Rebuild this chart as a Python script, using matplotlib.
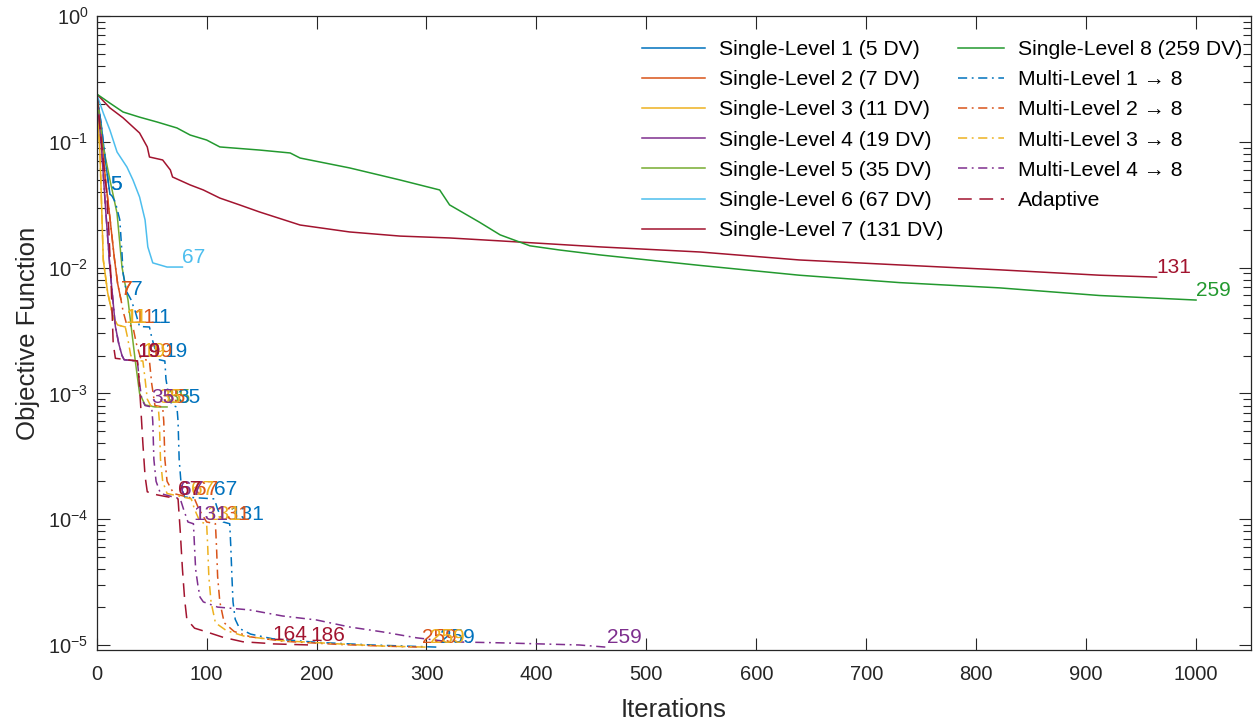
import numpy as np
import matplotlib
matplotlib.use("Agg")
import matplotlib.pyplot as plt

plt.rcParams['font.family'] = ['Liberation Sans', 'DejaVu Sans']
plt.rcParams['mathtext.fontset'] = 'custom'
plt.rcParams['mathtext.rm'] = 'Liberation Sans'
plt.rcParams['mathtext.it'] = 'Liberation Sans:italic'
plt.rcParams['axes.unicode_minus'] = False

# ---------------- data ----------------
sl1_it = [0, 4, 8, 12]
sl1_val = [0.24, 0.14, 0.07, 0.0385]
sl2_it = [0, 4, 8, 12, 16, 19, 22]
sl2_val = [0.24, 0.12, 0.05, 0.025, 0.012, 0.0075, 0.0056]
sl3_it = [0, 3, 6, 10, 15, 19, 26]
sl3_val = [0.24, 0.08, 0.0115, 0.0063, 0.0040, 0.0035, 0.00337]
sl4_it = [0, 4, 8, 12, 17, 20, 23, 25, 37]
sl4_val = [0.24, 0.1, 0.03, 0.01, 0.0034, 0.0025, 0.002, 0.00185, 0.00181]
sl5_it = [0, 6, 12, 18.5, 23, 28.5, 35, 39, 44, 53, 64]
sl5_val = [0.24, 0.091, 0.05, 0.027, 0.0101, 0.0055, 0.00184, 0.001, 0.00081, 0.00078, 0.00078]
sl6_it = [0, 6, 12, 18.5, 27.5, 33, 39, 44, 46.5, 51, 64, 78]
sl6_val = [0.24, 0.169, 0.124, 0.083, 0.063, 0.0497, 0.0364, 0.0239, 0.0146, 0.0109, 0.0101, 0.0101]
sl7_it = [0, 12, 24, 39, 46, 48, 60, 67, 69, 85, 97, 112, 130, 148, 185, 230, 276, 321, 367,
          458, 549, 639, 730, 821, 912, 964]
sl7_val = [0.24, 0.186, 0.155, 0.1175, 0.091, 0.0757, 0.0717, 0.0597, 0.0525, 0.0454, 0.0414,
           0.0357, 0.0315, 0.0277, 0.0218, 0.0192, 0.0178, 0.0172, 0.0163, 0.0146, 0.0133,
           0.0115, 0.0105, 0.0096, 0.0087, 0.0084]
sl8_it = [0, 12, 24, 39, 55, 73, 85, 100, 112, 148, 176, 185, 230, 276, 312, 321, 348, 367,
          394, 421, 458, 549, 639, 730, 821, 912, 1000]
sl8_val = [0.24, 0.203, 0.1725, 0.157, 0.1436, 0.1288, 0.1132, 0.1033, 0.091, 0.086, 0.0815,
           0.0743, 0.062, 0.0497, 0.0414, 0.0315, 0.023, 0.0182, 0.0149, 0.0138, 0.0126, 0.0104,
           0.0087, 0.0076, 0.0069, 0.0060, 0.00552]

ml1_it = [0, 4, 8, 12, 14, 17, 21, 23, 24, 27, 31, 35, 39, 48, 50, 54, 57, 62, 63, 66, 69, 73,
          74, 75, 77, 80, 107, 110, 115, 121, 122, 123, 124, 126, 130, 140, 160, 200, 250, 312]
ml1_val = [0.24, 0.14, 0.07, 0.0385, 0.037, 0.033, 0.024, 0.013, 0.009, 0.0065, 0.0056,
           0.0045, 0.0034, 0.00337, 0.0028, 0.0021, 0.00185, 0.00181, 0.0013, 0.0009, 0.0008,
           0.00078, 0.0006, 0.0003, 0.00018, 0.00015, 0.000145, 0.00012, 0.000095, 0.000092,
           6e-5, 3.5e-5, 2.2e-5, 1.6e-5, 1.35e-5, 1.22e-5, 1.12e-5, 1.05e-5, 1.0e-5, 9.6e-6]
ml2_it = [0, 4, 8, 12, 16, 19, 22, 24, 27, 33, 36, 40, 48, 50, 53, 60, 61, 62, 64, 70, 89,
          93, 100, 108, 109, 110, 112, 116, 125, 140, 170, 220, 260, 296]
ml2_val = [0.24, 0.12, 0.05, 0.025, 0.012, 0.0075, 0.0056, 0.0045, 0.0036, 0.00337, 0.0025,
           0.0019, 0.00181, 0.0012, 0.0008, 0.00078, 0.0006, 0.0003, 0.0002, 0.00016, 0.000145,
           0.00012, 0.000095, 0.000092, 6e-5, 3.5e-5, 2.2e-5, 1.5e-5, 1.28e-5, 1.16e-5,
           1.07e-5, 1.01e-5, 9.8e-6, 9.6e-6]
ml3_it = [0, 3, 6, 10, 15, 19, 26, 28, 31, 35, 42, 44, 46, 49, 56, 57, 58, 60, 64, 86,
          89, 94, 100, 101, 102, 104, 108, 118, 135, 170, 220, 260, 303]
ml3_val = [0.24, 0.08, 0.0115, 0.0063, 0.004, 0.0035, 0.00337, 0.0028, 0.002, 0.00182, 0.00181,
           0.0013, 0.0009, 0.0008, 0.00078, 0.0006, 0.0003, 0.0002, 0.00016, 0.000145,
           0.00012, 0.000095, 0.000092, 6e-5, 3.5e-5, 2.2e-5, 1.5e-5, 1.3e-5, 1.17e-5,
           1.08e-5, 1.02e-5, 9.8e-6, 9.6e-6]
ml4_it = [0, 4, 8, 12, 17, 20, 23, 25, 37, 39, 41, 44, 50, 51, 52, 54, 58, 76, 79, 83, 88,
          89, 90, 92, 94, 97, 110, 139, 169, 200, 230, 260, 291, 321, 367, 439, 464]
ml4_val = [0.24, 0.1, 0.03, 0.01, 0.0034, 0.0025, 0.002, 0.00185, 0.00181, 0.0012, 0.0009,
           0.0008, 0.00078, 0.0006, 0.0003, 0.0002, 0.00016, 0.000145, 0.00012, 0.000095,
           0.000092, 6e-5, 4e-5, 3e-5, 2.4e-5, 2.2e-5, 2.0e-5, 1.9e-5, 1.7e-5, 1.58e-5,
           1.39e-5, 1.27e-5, 1.14e-5, 1.06e-5, 1.04e-5, 1.0e-5, 9.6e-6]
ad_it = [0, 3, 6, 9, 11, 13, 14, 15, 17, 37, 38, 40, 42, 44, 46, 55, 74, 76, 78, 80, 82, 89,
         100, 115, 133, 155, 160, 194]
ad_val = [0.24, 0.13, 0.07, 0.04, 0.02, 0.008, 0.0045, 0.0025, 0.0019, 0.00181, 0.0015,
          0.0008, 0.0004, 0.00022, 0.000165, 0.000156, 0.000145, 8e-5, 4e-5, 2.3e-5, 1.6e-5,
          1.36e-5, 1.27e-5, 1.15e-5, 1.06e-5, 1.03e-5, 1.02e-5, 1.0e-5]

# stage-end labels (iteration, design variables)
ml1_lab_it = [12, 31, 48, 62, 73, 107, 121, 312]
ml1_lab_dv = [5, 7, 11, 19, 35, 67, 131, 259]
ml2_lab_it = [22, 33, 48, 60, 89, 108, 296]
ml2_lab_dv = [7, 11, 19, 35, 67, 131, 259]
ml3_lab_it = [26, 42, 56, 86, 100, 303]
ml3_lab_dv = [11, 19, 35, 67, 131, 259]
ml4_lab_it = [37, 50, 76, 88, 464]
ml4_lab_dv = [19, 35, 67, 131, 259]
ad_lab_it = [37, 74, 160, 194]
ad_lab_dv = [19, 67, 164, 186]

sl_dv = [5, 7, 11, 19, 35, 67, 131, 259]
sl_names = [f"Single-Level {i+1} ({d} DV)" for i, d in enumerate(sl_dv)]
ml_names = [f"Multi-Level {i} \u2192 8" for i in range(1, 5)]

# ---------------- style ----------------
C = ['#0072BD', '#D95319', '#EDB120', '#7E2F8E', '#77AC30', '#4DBEEE', '#A2142F', '#23992F']
LW = 1.1
DASHDOT = (6, 3, 1.2, 3)
DASHED = (9, 5)
TXT = 15
INK = '#262626'

fig = plt.figure(figsize=(12.54, 7.23), dpi=100)
ax = fig.add_axes([96.7 / 1254, 1 - 650 / 723, (1251 - 96.7) / 1254, (650 - 16) / 723])


def val_at(its, vals, x):
    return 10 ** np.interp(x, its, np.log10(vals))


sl_data = [(sl1_it, sl1_val), (sl2_it, sl2_val), (sl3_it, sl3_val), (sl4_it, sl4_val),
           (sl5_it, sl5_val), (sl6_it, sl6_val), (sl7_it, sl7_val), (sl8_it, sl8_val)]
handles1, handles2 = [], []
for i, (its, vals) in enumerate(sl_data):
    ln, = ax.plot(its, vals, color=C[i], lw=LW, label=sl_names[i])
    ax.text(its[-1], vals[-1], str(sl_dv[i]), color=C[i], fontsize=TXT,
            ha='left', va='bottom', zorder=5)
    if i < 7:
        handles1.append(ln)
    else:
        handles2.append(ln)

ml_data = [(ml1_it, ml1_val, ml1_lab_it, ml1_lab_dv), (ml2_it, ml2_val, ml2_lab_it, ml2_lab_dv),
           (ml3_it, ml3_val, ml3_lab_it, ml3_lab_dv), (ml4_it, ml4_val, ml4_lab_it, ml4_lab_dv)]
for i, (its, vals, lit, ldv) in enumerate(ml_data):
    ln, = ax.plot(its, vals, color=C[i], lw=LW, dashes=DASHDOT, label=ml_names[i])
    handles2.append(ln)
    for x, d in zip(lit, ldv):
        ax.text(x, val_at(its, vals, x), str(d), color=C[i], fontsize=TXT,
                ha='left', va='bottom', zorder=5)

ln, = ax.plot(ad_it, ad_val, color=C[6], lw=LW, dashes=DASHED, label='Adaptive')
handles2.append(ln)
for x, d in zip(ad_lab_it, ad_lab_dv):
    ax.text(x, val_at(ad_it, ad_val, x), str(d), color=C[6], fontsize=TXT,
            ha='left', va='bottom', zorder=6)

ax.set_yscale('log')
ax.set_xlim(0, 1050)
ax.set_ylim(10 ** -5.04, 1)
ax.set_xticks(np.arange(0, 1001, 100))
ax.tick_params(which='both', direction='in', top=True, right=True, labelsize=14.5,
               color=INK, labelcolor=INK)
ax.tick_params(which='major', length=9, width=0.8)
ax.tick_params(which='minor', length=5.5, width=0.8)
ax.tick_params(axis='x', which='both', pad=11)
ax.tick_params(axis='y', which='both', pad=6)
ax.tick_params(axis='x', which='minor', top=False, bottom=False)
for s in ax.spines.values():
    s.set_color(INK)
    s.set_linewidth(0.9)
ax.set_xlabel('Iterations', fontsize=18.5, color=INK, labelpad=10)
ax.set_ylabel('Objective Function', fontsize=18.5, color=INK, labelpad=6)

leg_kw = dict(frameon=False, loc='upper left', borderpad=0, borderaxespad=0,
              fontsize=15.2, labelspacing=0.53, handletextpad=0.65)
leg1 = fig.legend(handles=handles1, bbox_to_anchor=(642 / 1254, 1 - 40 / 723),
                  handlelength=3.0, **leg_kw)
leg2 = fig.legend(handles=handles2, bbox_to_anchor=(958 / 1254, 1 - 40 / 723),
                  handlelength=2.2, **leg_kw)

fig.savefig('out.png', dpi=100)
